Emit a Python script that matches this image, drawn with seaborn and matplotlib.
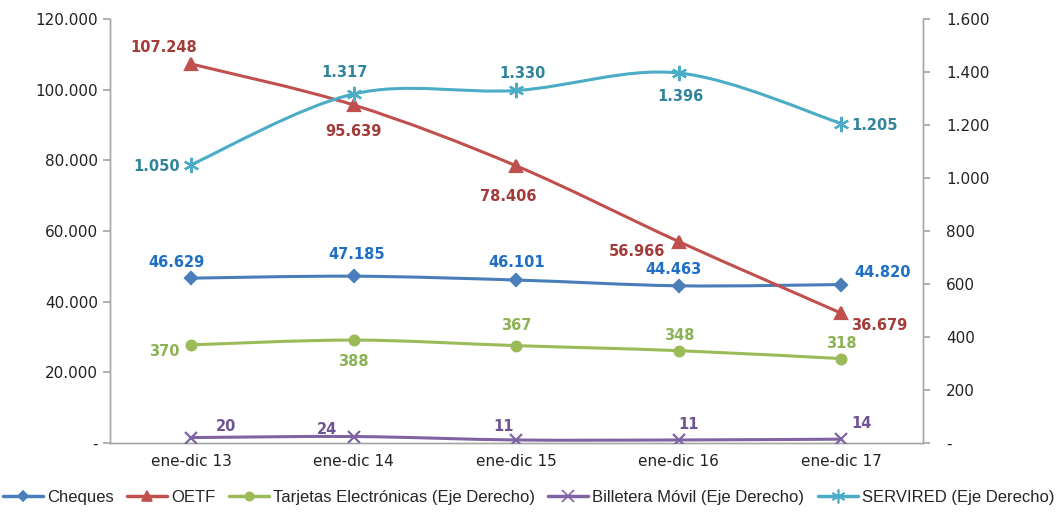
import numpy as np
import pandas as pd
import matplotlib
matplotlib.use("Agg")
import matplotlib.pyplot as plt
import seaborn as sns
from matplotlib.path import Path
from matplotlib.patches import PathPatch
from matplotlib.lines import Line2D
from matplotlib.ticker import FuncFormatter, FixedLocator

categories = ["ene-dic 13", "ene-dic 14", "ene-dic 15", "ene-dic 16", "ene-dic 17"]
cheques = [46629, 47185, 46101, 44463, 44820]
oetf = [107248, 95639, 78406, 56966, 36679]
tarjetas = [370, 388, 367, 348, 318]
billetera = [20, 24, 11, 11, 14]
servired = [1050, 1317, 1330, 1396, 1205]

sns.set_theme(style="white")
plt.rcParams['font.family'] = ['DejaVu Sans']

fig = plt.figure(figsize=(10.57, 5.12), dpi=100)
ax = fig.add_axes([0.104, 0.135, 0.769, 0.828])
ax2 = ax.twinx()

xs = np.arange(len(categories))

def fmt(v, _):
    if abs(v) < 1e-9:
        return "-"
    return f"{int(round(v)):,}".replace(",", ".")

def smooth(a, ys, color, lw=2.2):
    pts = np.column_stack([xs, ys]).astype(float)
    n = len(pts)
    verts = [pts[0]]
    codes = [Path.MOVETO]
    for i in range(n - 1):
        p0 = pts[max(i - 1, 0)]
        p1 = pts[i]
        p2 = pts[i + 1]
        p3 = pts[min(i + 2, n - 1)]
        c1 = p1 + (p2 - p0) / 6
        c2 = p2 - (p3 - p1) / 6
        verts += [c1, c2, p2]
        codes += [Path.CURVE4] * 3
    a.add_patch(PathPatch(Path(verts, codes), fill=False, edgecolor=color,
                          lw=lw, capstyle='round', zorder=2))

series = [
    ("Cheques", cheques, ax, "#4A7EBB", "#1F6FC5", "D", 6,
     [(-15, 16), (3, 22), (0, 18), (-5, 16), (41, 12)]),
    ("OETF", oetf, ax, "#C0504D", "#A33B38", "^", 8,
     [(-28, 16), (0, -26), (-8, -31), (-42, -10), (38, -12)]),
    ("Tarjetas Electrónicas (Eje Derecho)", tarjetas, ax2, "#9BBB59", "#8DB255", "o", 7,
     [(-27, -7), (0, -21), (0, 20), (0, 15), (0, 15)]),
    ("Billetera Móvil (Eje Derecho)", billetera, ax2, "#8064A2", "#6E5494", "x", 9,
     [(35, 11), (-27, 7), (-13, 13), (10, 15), (20, 16)]),
    ("SERVIRED (Eje Derecho)", servired, ax2, "#4BACC6", "#31849B", (6, 2, 0), 11,
     [(-35, -2), (-9, 21), (6, 17), (2, -24), (33, -2)]),
]

handles = []
for name, vals, a, lc, tc, mk, ms, offs in series:
    smooth(a, vals, lc)
    df = pd.DataFrame({"x": xs, "y": vals})
    sns.lineplot(data=df, x="x", y="y", ax=a, marker=mk, markersize=ms,
                 linewidth=0, color=lc, markeredgecolor=lc, markeredgewidth=1.6,
                 zorder=3, legend=False)
    for xi, yi, (dx, dy) in zip(xs, vals, offs):
        a.annotate(fmt(yi, None), (xi, yi), xytext=(dx, dy), textcoords='offset pixels',
                   ha='center', va='center', color=tc, fontsize=10.5, fontweight='bold',
                   zorder=4)
    handles.append(Line2D([0], [0], color=lc, lw=2.5, marker=mk, markersize=ms - 1,
                          markeredgecolor=lc, markeredgewidth=1.2, label=name))

ax.set_xlim(-0.5, 4.5)
ax.set_ylim(0, 120000)
ax2.set_ylim(0, 1600)
ax.set_yticks(np.arange(0, 120001, 20000))
ax2.set_yticks(np.arange(0, 1601, 200))
ax.yaxis.set_major_formatter(FuncFormatter(fmt))
ax2.yaxis.set_major_formatter(FuncFormatter(fmt))
ax.set_xticks(xs)
ax.set_xticklabels(categories)
ax.xaxis.set_minor_locator(FixedLocator(np.arange(-0.5, 4.6, 1)))
ax.set_xlabel("")
ax.set_ylabel("")
ax2.set_ylabel("")

for a in (ax, ax2):
    for s in a.spines.values():
        s.set_color("#A6A6A6")
        s.set_linewidth(1)
    a.spines['top'].set_visible(False)
    a.grid(False)

ax.tick_params(axis='x', which='major', length=0, labelsize=11, colors='#222222', pad=8)
ax.tick_params(axis='x', which='minor', length=5, color='#A6A6A6', direction='out')
ax.tick_params(axis='y', length=5, color='#A6A6A6', direction='out', labelsize=11,
               labelcolor='#222222', left=True)
ax2.tick_params(axis='y', length=5, color='#A6A6A6', direction='out', labelsize=11,
                labelcolor='#222222', right=True, pad=12)

fig.legend(handles=handles, loc='lower center', bbox_to_anchor=(0.5, -0.015), ncol=5,
           frameon=False, prop={'family': 'Liberation Sans', 'size': 12},
           handlelength=2.4, columnspacing=0.8, handletextpad=0.25)

fig.savefig("out.png", dpi=100)
